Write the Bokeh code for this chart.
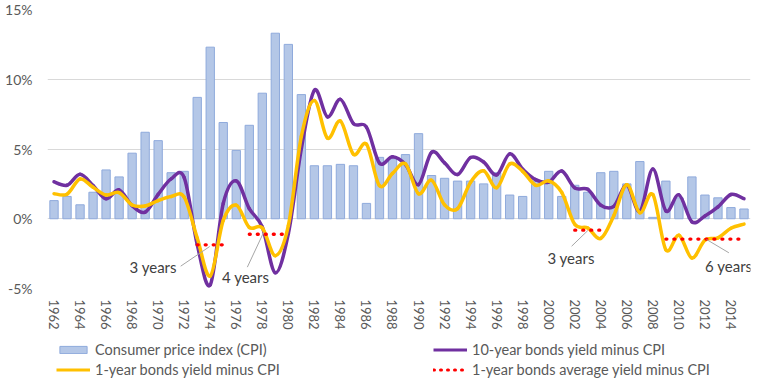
import math
from bokeh.plotting import figure
from bokeh.layouts import column
from bokeh.models import (FixedTicker, PrintfTickFormatter, Legend, LegendItem,
                          ColumnDataSource, Range1d)
from bokeh.core.properties import value
from bokeh.embed import file_html
from bokeh.resources import INLINE

years = list(range(1962, 2016))
cpi = [1.3, 1.6, 1.0, 1.9, 3.5, 3.0, 4.7, 6.2, 5.6, 3.3,
       3.4, 8.7, 12.3, 6.9, 4.9, 6.7, 9.0, 13.3, 12.5, 8.9,
       3.8, 3.8, 3.9, 3.8, 1.1, 4.4, 4.3, 4.6, 6.1, 3.1,
       2.9, 2.7, 2.7, 2.5, 3.3, 1.7, 1.6, 2.7, 3.4, 1.6,
       2.4, 1.9, 3.3, 3.4, 2.5, 4.1, 0.1, 2.7, 1.5, 3.0,
       1.7, 1.5, 0.8, 0.7]
ten_year_minus_cpi = [2.65, 2.40, 3.19, 2.38, 1.43, 2.07, 0.94, 0.47, 1.75, 2.86,
                      2.95, -1.85, -4.74, 1.09, 2.71, 0.72, -0.59, -3.87, -1.07, 5.02,
                      9.21, 7.30, 8.56, 6.82, 6.57, 3.99, 4.45, 3.89, 2.45, 4.76,
                      4.00, 3.17, 4.39, 4.07, 3.14, 4.65, 3.55, 2.80, 2.63, 3.42,
                      2.21, 2.11, 0.97, 0.89, 2.40, 0.53, 3.56, 0.56, 1.72, -0.22,
                      0.20, 0.85, 1.74, 1.44]
one_year_minus_cpi = [1.80, 1.76, 2.85, 2.25, 1.70, 1.88, 0.99, 0.92, 1.30, 1.59,
                      1.55, -1.38, -4.10, -0.12, 0.98, -0.62, -0.66, -2.65, -0.50, 5.90,
                      8.47, 5.78, 7.01, 4.62, 5.35, 2.37, 3.25, 3.93, 1.79, 2.76,
                      0.99, 0.73, 2.62, 3.44, 2.22, 3.93, 3.40, 2.40, 2.71, 1.89,
                      -0.40, -0.66, -1.41, 0.22, 2.44, 0.43, 1.73, -2.23, -1.18, -2.82,
                      -1.53, -1.37, -0.68, -0.38]
N = None
one_year_avg_minus_cpi = [N, N, N, N, N, N, N, N, N, N,
                          N, -1.87, -1.87, -1.87, N, -1.11, -1.11, -1.11, -1.11, N,
                          N, N, N, N, N, N, N, N, N, N,
                          N, N, N, N, N, N, N, N, N, N,
                          -0.82, -0.82, -0.82, N, N, N, N, -1.46, -1.46, -1.46,
                          -1.46, -1.46, -1.46, -1.46]
x_tick_years = list(range(1962, 2015, 2))
y_ticks = [-5, 0, 5, 10, 15]
legend_labels = ["Consumer price index (CPI)", "10-year bonds yield minus CPI",
                 "1-year bonds yield minus CPI",
                 "1-year bonds average yield minus CPI"]

# annotation texts and their leader lines (positions in data units)
ann_text = ["3 years", "4 years", "3 years", "6 years"]
ann_x = [1969.62, 1976.72, 2001.72, 2013.83]
ann_y = [-3.43, -4.21, -2.81, -3.40]
lead_x0 = [1971.73, 1976.85, 2001.76, 2013.84]
lead_y0 = [-3.40, -3.47, -1.97, -2.44]
lead_x1 = [1973.96, 1978.10, 2003.01, 2012.13]
lead_y1 = [-1.99, -0.98, -0.84, -1.49]

FONT = "Lato"
BAR_FILL, BAR_LINE = "#b4c7e7", "#8faadc"
C10, C1, CAVG = "#7030a0", "#ffc000", "#ff0000"


def smooth_source(xs, ys, k=1.0 / 6.0):
    n = len(xs)
    d = dict(x0=[], y0=[], x1=[], y1=[], cx0=[], cy0=[], cx1=[], cy1=[])
    for i in range(n - 1):
        pm = i - 1 if i > 0 else i
        pp = i + 2 if i + 2 < n else i + 1
        d["x0"].append(xs[i]); d["y0"].append(ys[i])
        d["x1"].append(xs[i + 1]); d["y1"].append(ys[i + 1])
        d["cx0"].append(xs[i] + (xs[i + 1] - xs[pm]) * k)
        d["cy0"].append(ys[i] + (ys[i + 1] - ys[pm]) * k)
        d["cx1"].append(xs[i + 1] - (xs[pp] - xs[i]) * k)
        d["cy1"].append(ys[i + 1] - (ys[pp] - ys[i]) * k)
    return ColumnDataSource(d)


avg_vals = [float("nan") if v is None else v for v in one_year_avg_minus_cpi]

p = figure(width=763, height=335, output_backend="svg", toolbar_location=None,
           x_range=Range1d(1961.5, 2015.5), y_range=Range1d(-5, 15),
           min_border_left=47, min_border_right=13, min_border_top=9,
           min_border_bottom=47)
p.outline_line_color = None
p.background_fill_color = "white"
p.border_fill_color = "white"
p.xgrid.grid_line_color = None
p.ygrid.grid_line_color = "#d9d9d9"
p.ygrid.grid_line_width = 1

p.vbar(x=years, top=cpi, bottom=0, width=0.64,
       fill_color=BAR_FILL, line_color=BAR_LINE, line_width=1)

s10 = smooth_source(years, ten_year_minus_cpi)
p.bezier(x0="x0", y0="y0", x1="x1", y1="y1", cx0="cx0", cy0="cy0",
         cx1="cx1", cy1="cy1", source=s10, line_color=C10,
         line_width=3.5, line_cap="round")
s1 = smooth_source(years, one_year_minus_cpi)
p.bezier(x0="x0", y0="y0", x1="x1", y1="y1", cx0="cx0", cy0="cy0",
         cx1="cx1", cy1="cy1", source=s1, line_color=C1,
         line_width=3.5, line_cap="round")

p.line(years, avg_vals, line_color=CAVG, line_width=3.3,
       line_dash="1 7", line_cap="round")

p.segment(x0=lead_x0, y0=lead_y0, x1=lead_x1, y1=lead_y1,
          line_color="#a6a6a6", line_width=1)
p.text(x=ann_x, y=ann_y, text=ann_text, text_font=value(FONT),
       text_font_size="15px", text_color="#404040",
       text_align="center", text_baseline="middle")

# axes
p.yaxis.ticker = FixedTicker(ticks=y_ticks)
p.yaxis.formatter = PrintfTickFormatter(format="%d%%")
p.yaxis.axis_line_color = None
p.yaxis.major_tick_out = 0
p.yaxis.major_tick_in = 0
p.yaxis.minor_tick_out = 0
p.yaxis.minor_tick_in = 0
p.yaxis.major_label_standoff = 15
p.yaxis.major_label_text_font = FONT
p.yaxis.major_label_text_font_size = "14px"
p.yaxis.major_label_text_color = "#595959"

p.xaxis.ticker = FixedTicker(ticks=x_tick_years)
p.xaxis.major_label_overrides = {y: str(y) for y in x_tick_years}
p.xaxis.major_label_orientation = "vertical"
p.xaxis.axis_line_color = None
p.xaxis.major_tick_out = 0
p.xaxis.major_tick_in = 0
p.xaxis.minor_tick_out = 0
p.xaxis.minor_tick_in = 0
p.xaxis.major_label_standoff = 11
p.xaxis.major_label_text_font = FONT
p.xaxis.major_label_text_font_size = "13px"
p.xaxis.major_label_text_color = "#595959"

# legend strip below the chart: the same series, kept outside its visible
# ranges so that only the legend shows
lf = figure(width=763, height=45, output_backend="svg", toolbar_location=None,
            x_range=Range1d(0, 1), y_range=Range1d(100, 101),
            x_axis_type=None, y_axis_type=None, min_border=0)
lf.outline_line_color = None
lf.grid.grid_line_color = None
lf.background_fill_color = "white"
lf.border_fill_color = "white"
g_bar = lf.vbar(x=years, top=cpi, width=0.64, fill_color=BAR_FILL,
                line_color=BAR_LINE, line_width=1)
g_10 = lf.line(years, ten_year_minus_cpi, line_color=C10, line_width=3)
g_1 = lf.line(years, one_year_minus_cpi, line_color=C1, line_width=3)
g_avg = lf.line(years, avg_vals, line_color=CAVG, line_width=3,
                line_dash="1 6", line_cap="round")

# the legend frame is aligned with the chart frame (left edge at 47px)
legend = Legend(items=[
    LegendItem(label=legend_labels[0], renderers=[g_bar]),
    LegendItem(label=legend_labels[1], renderers=[g_10]),
    LegendItem(label=legend_labels[2], renderers=[g_1]),
    LegendItem(label=legend_labels[3], renderers=[g_avg]),
], location=(9, 2), orientation="horizontal", ncols=2)
legend.padding = 0
legend.margin = 0
legend.spacing = 3
legend.glyph_width = 34
legend.glyph_height = 9
legend.label_height = 17
legend.label_width = 335
legend.label_standoff = 5
legend.label_text_font = FONT
legend.label_text_font_size = "14.5px"
legend.label_text_color = "#595959"
legend.border_line_color = None
legend.background_fill_alpha = 0
lf.add_layout(legend)

layout = column(p, lf, spacing=0)
open("out.html", "w").write(file_html(layout, INLINE))
